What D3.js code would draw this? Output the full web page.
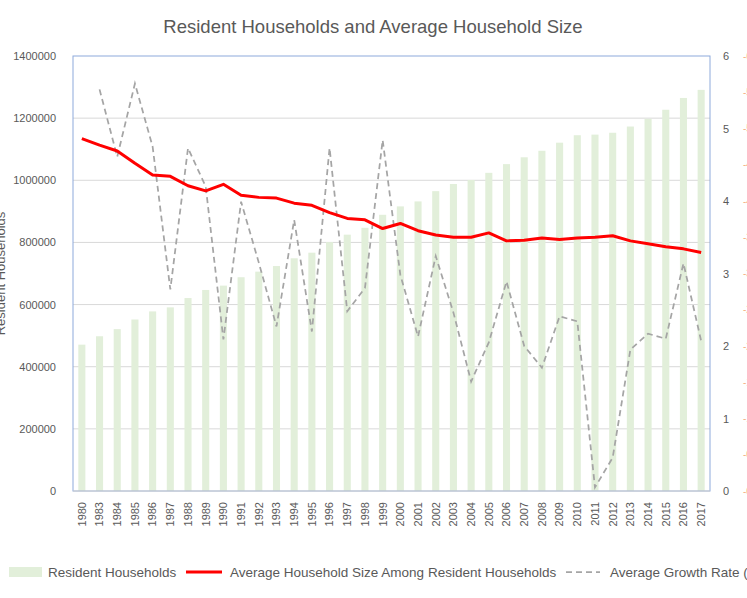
<!DOCTYPE html>
<html>
<head>
<meta charset="utf-8">
<script src="https://cdn.jsdelivr.net/npm/d3@7"></script>
<style>
  body { margin: 0; background: #fff; }
  svg { display: block; font-family: "Liberation Sans", Arial, sans-serif; }
</style>
</head>
<body>
<div id="chart"></div>
<script>
const years = ["1980", "1983", "1984", "1985", "1986", "1987", "1988", "1989", "1990",
  "1991", "1992", "1993", "1994", "1995", "1996", "1997", "1998", "1999", "2000",
  "2001", "2002", "2003", "2004", "2005", "2006", "2007", "2008", "2009", "2010",
  "2011", "2012", "2013", "2014", "2015", "2016", "2017"];

const households = [471000, 498000, 521000, 552000, 578000, 591000, 621000, 647000, 661000,
  688000, 706000, 724000, 749000, 767000, 801000, 825000, 847000, 889000, 916000,
  932000, 965000, 988000, 1001000, 1024000, 1052000, 1074000, 1095000, 1121000, 1145000,
  1147000, 1153000, 1173000, 1198000, 1227000, 1265000, 1291000];

const avgSize = [4.86, 4.77, 4.69, 4.52, 4.36, 4.34, 4.21, 4.14, 4.23,
  4.08, 4.05, 4.04, 3.97, 3.94, 3.84, 3.76, 3.74, 3.62, 3.69,
  3.59, 3.53, 3.50, 3.50, 3.56, 3.45, 3.46, 3.49, 3.47, 3.49,
  3.50, 3.52, 3.45, 3.41, 3.37, 3.34, 3.29];

// no growth value for the first year
const growth = [null, 5.54, 4.61, 5.62, 4.75, 2.78, 4.73, 4.20, 2.09,
  3.99, 3.15, 2.27, 3.74, 2.20, 4.73, 2.48, 2.80, 4.84, 2.98,
  2.13, 3.24, 2.46, 1.51, 2.05, 2.89, 2.00, 1.70, 2.41, 2.34,
  0.05, 0.46, 1.95, 2.17, 2.10, 3.14, 2.07];

const leftTicks = [0, 200000, 400000, 600000, 800000, 1000000, 1200000, 1400000];
const rightTicks = [0, 1, 2, 3, 4, 5, 6];

const W = 747, H = 598;
const plot = { left: 73, right: 710, top: 56, bottom: 491 };
const textGray = "#595959";

const rows = years.map((year, i) => ({
  year, households: households[i], size: avgSize[i], growth: growth[i]
}));

const svg = d3.select("#chart").append("svg")
  .attr("width", W)
  .attr("height", H);

const x = d3.scaleBand()
  .domain(years)
  .range([plot.left, plot.right])
  .paddingInner(0.6)
  .paddingOuter(0.3);

const y = d3.scaleLinear().domain([0, 1400000]).range([plot.bottom, plot.top]);
const y2 = d3.scaleLinear().domain([0, 6]).range([plot.bottom, plot.top]);

// gridlines
svg.append("g")
  .selectAll("line")
  .data(leftTicks.slice(1, -1))
  .join("line")
  .attr("x1", plot.left)
  .attr("x2", plot.right)
  .attr("y1", d => y(d))
  .attr("y2", d => y(d))
  .attr("stroke", "#d9d9d9")
  .attr("stroke-width", 1);

// bars
svg.append("g")
  .selectAll("rect")
  .data(rows)
  .join("rect")
  .attr("x", d => x(d.year))
  .attr("y", d => y(d.households))
  .attr("width", x.bandwidth())
  .attr("height", d => y(0) - y(d.households))
  .attr("fill", "#e2efda");

const cx = d => x(d.year) + x.bandwidth() / 2;

// growth rate (dashed)
svg.append("path")
  .datum(rows)
  .attr("fill", "none")
  .attr("stroke", "#a5a5a5")
  .attr("stroke-width", 1.75)
  .attr("stroke-dasharray", "6,4")
  .attr("d", d3.line()
    .defined(d => d.growth !== null)
    .x(cx)
    .y(d => y2(d.growth)));

// household size (red)
svg.append("path")
  .datum(rows)
  .attr("fill", "none")
  .attr("stroke", "#ff0000")
  .attr("stroke-width", 3)
  .attr("stroke-linejoin", "round")
  .attr("d", d3.line().x(cx).y(d => y2(d.size)));

// plot border
svg.append("rect")
  .attr("x", plot.left)
  .attr("y", plot.top)
  .attr("width", plot.right - plot.left)
  .attr("height", plot.bottom - plot.top)
  .attr("fill", "none")
  .attr("stroke", "#8eaadb")
  .attr("stroke-width", 1);

svg.append("line")
  .attr("x1", plot.left).attr("x2", plot.right)
  .attr("y1", plot.bottom).attr("y2", plot.bottom)
  .attr("stroke", "#d0d0d0");

// left axis
const leftAxis = svg.append("g")
  .attr("transform", `translate(${plot.left},0)`)
  .call(d3.axisLeft(y).tickValues(leftTicks).tickSize(0).tickPadding(17).tickFormat(d3.format("d")));
leftAxis.select(".domain").remove();
leftAxis.selectAll("text")
  .attr("fill", textGray)
  .style("font-size", "11px");

// right axis
const rightAxis = svg.append("g")
  .attr("transform", `translate(${plot.right},0)`)
  .call(d3.axisRight(y2).tickValues(rightTicks).tickSize(0).tickPadding(13).tickFormat(d3.format("d")));
rightAxis.select(".domain").remove();
rightAxis.selectAll("text")
  .attr("fill", textGray)
  .style("font-size", "11px");

// growth axis, cut off by the window edge as in the original
const growthAxis = svg.append("g")
  .attr("transform", `translate(${W - 4},0)`)
  .call(d3.axisRight(y2).ticks(12).tickSize(0).tickPadding(0).tickFormat(d => "-" + d3.format(".1f")(d)));
growthAxis.select(".domain").remove();
growthAxis.selectAll("text")
  .attr("fill", "#f4b183")
  .style("font-size", "10px");

// x axis labels
svg.append("g")
  .selectAll("text")
  .data(years)
  .join("text")
  .attr("transform", d => `translate(${x(d) + x.bandwidth() / 2},502) rotate(-90)`)
  .attr("text-anchor", "end")
  .attr("dy", "0.35em")
  .attr("fill", textGray)
  .style("font-size", "11px")
  .text(d => d);

// title
svg.append("text")
  .attr("x", 373)
  .attr("y", 33)
  .attr("text-anchor", "middle")
  .attr("fill", textGray)
  .style("font-size", "18.5px")
  .text("Resident Households and Average Household Size");

// left axis title (cut off by the window edge)
svg.append("text")
  .attr("transform", `translate(5,${(plot.top + plot.bottom) / 2}) rotate(-90)`)
  .attr("text-anchor", "middle")
  .attr("fill", textGray)
  .style("font-size", "13px")
  .text("Resident Households");

// legend
const legendY = 572;
const legend = svg.append("g");

legend.append("rect")
  .attr("x", 9).attr("y", legendY - 5)
  .attr("width", 33).attr("height", 10)
  .attr("fill", "#e2efda");
legend.append("text")
  .attr("x", 48).attr("y", legendY).attr("dy", "0.35em")
  .attr("fill", textGray).style("font-size", "13.5px")
  .text("Resident Households");

legend.append("line")
  .attr("x1", 186).attr("x2", 222)
  .attr("y1", legendY).attr("y2", legendY)
  .attr("stroke", "#ff0000").attr("stroke-width", 3);
legend.append("text")
  .attr("x", 230).attr("y", legendY).attr("dy", "0.35em")
  .attr("fill", textGray).style("font-size", "13.5px")
  .text("Average Household Size Among Resident Households");

legend.append("line")
  .attr("x1", 566).attr("x2", 600)
  .attr("y1", legendY).attr("y2", legendY)
  .attr("stroke", "#a5a5a5").attr("stroke-width", 1.75)
  .attr("stroke-dasharray", "6,4");
legend.append("text")
  .attr("x", 610).attr("y", legendY).attr("dy", "0.35em")
  .attr("fill", textGray).style("font-size", "13.5px")
  .text("Average Growth Rate (%)");
</script>
</body>
</html>
